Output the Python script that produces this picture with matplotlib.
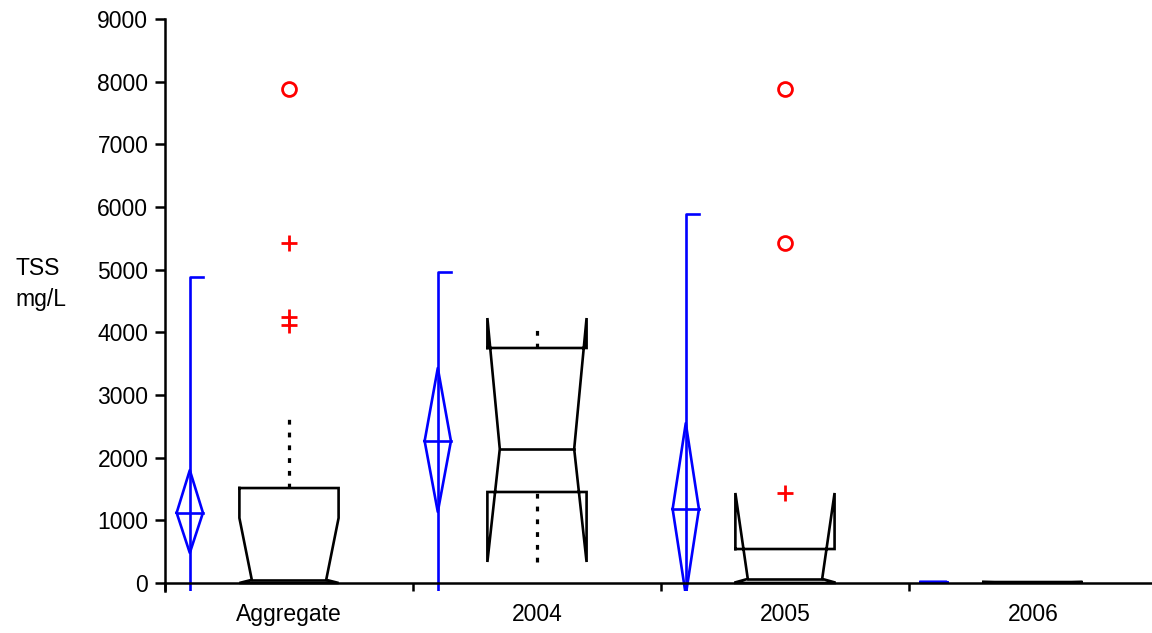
import numpy as np
import matplotlib.pyplot as plt

plt.rcParams['font.family'] = ['Liberation Sans', 'DejaVu Sans']

cats = ['Aggregate', '2004', '2005', '2006']

# blue: mean, confidence interval, mean +/- sd
mean = [1120, 2265, 1180, 15]
ci_lo = [480, 1135, -190, 12]
ci_hi = [1800, 3430, 2550, 18]
sd_lo = [-2640, -430, -3530, 10]
sd_hi = [4880, 4960, 5890, 20]

# black notched boxes
q1 = [0, 1452, 0, 5]
q3 = [1515, 3750, 542, 15]
med = [50, 2138, 65, 10]
notch_lo = [0, 335, 10, 5]
notch_hi = [1037, 4228, 1436, 15]
whis_lo = [0, 335, 0, 5]
whis_hi = [2610, 4085, 542, 15]

# red outliers
plus_pts = [[5420, 4240, 4120], [], [1430], []]
circ_pts = [[7880], [], [5420, 7880], []]

fig = plt.figure(figsize=(11.52, 6.33), dpi=100)
ax = fig.add_axes([165/1152, 42/633, 987/1152, 572/633])

blue = '#0000ff'
lw = 1.9
for i in range(len(cats)):
    c = i + 0.1
    w = 0.053
    ax.plot([c, c, c + w], [sd_lo[i], sd_hi[i], sd_hi[i]], color=blue, lw=lw)
    ax.plot([c - w, c, c + w, c, c - w], [mean[i], ci_hi[i], mean[i], ci_lo[i], mean[i]],
            color=blue, lw=lw)
    ax.plot([c - w, c + w], [mean[i], mean[i]], color=blue, lw=lw)

    b = i + 0.5
    L, R = b - 0.2, b + 0.2
    Li, Ri = b - 0.15, b + 0.15
    xs = [L, L, Li, L, L, R, R, Ri, R, R, L]
    ys = [q3[i], notch_hi[i], med[i], notch_lo[i], q1[i], q1[i], notch_lo[i], med[i],
          notch_hi[i], q3[i], q3[i]]
    ax.plot(xs, ys, color='black', lw=lw, solid_joinstyle='miter')
    ax.plot([Li, Ri], [med[i], med[i]], color='black', lw=lw)
    if whis_hi[i] > q3[i]:
        ax.plot([b, b], [q3[i], whis_hi[i]], color='black', lw=2.3, ls=(0, (1.5, 2.5)))
    if whis_lo[i] < q1[i]:
        ax.plot([b, b], [whis_lo[i], q1[i]], color='black', lw=2.3, ls=(0, (1.5, 2.5)))
    if plus_pts[i]:
        ax.plot([b] * len(plus_pts[i]), plus_pts[i], ls='none', marker='+', ms=11,
                mew=2, color='red')
    if circ_pts[i]:
        ax.plot([b] * len(circ_pts[i]), circ_pts[i], ls='none', marker='o', ms=10,
                mew=2, mfc='none', mec='red')

ax.set_xlim(0, 3.98)
ax.set_ylim(-128, 9000)
ax.spines['top'].set_visible(False)
ax.spines['right'].set_visible(False)
ax.spines['bottom'].set_position(('data', 0))
ax.spines['left'].set_linewidth(1.8)
ax.spines['bottom'].set_linewidth(1.8)

ax.set_yticks(np.arange(0, 9001, 1000))
ax.tick_params(axis='y', direction='out', length=7, width=1.8, labelsize=16.5, pad=5)
ax.set_xticks([0, 1, 2, 3])
ax.set_xticklabels([])
ax.set_xticks([0.5, 1.5, 2.5, 3.5], minor=True)
ax.set_xticklabels(cats, minor=True)
ax.tick_params(axis='x', which='major', direction='out', length=6, width=1.8)
ax.tick_params(axis='x', which='minor', length=0, labelsize=16.5, pad=14.5)

fig.text(15/1152, 1 - 284/633, 'TSS\nmg/L', fontsize=16.5, ha='left', va='center',
         linespacing=1.45)

fig.savefig('out.png', dpi=100)
